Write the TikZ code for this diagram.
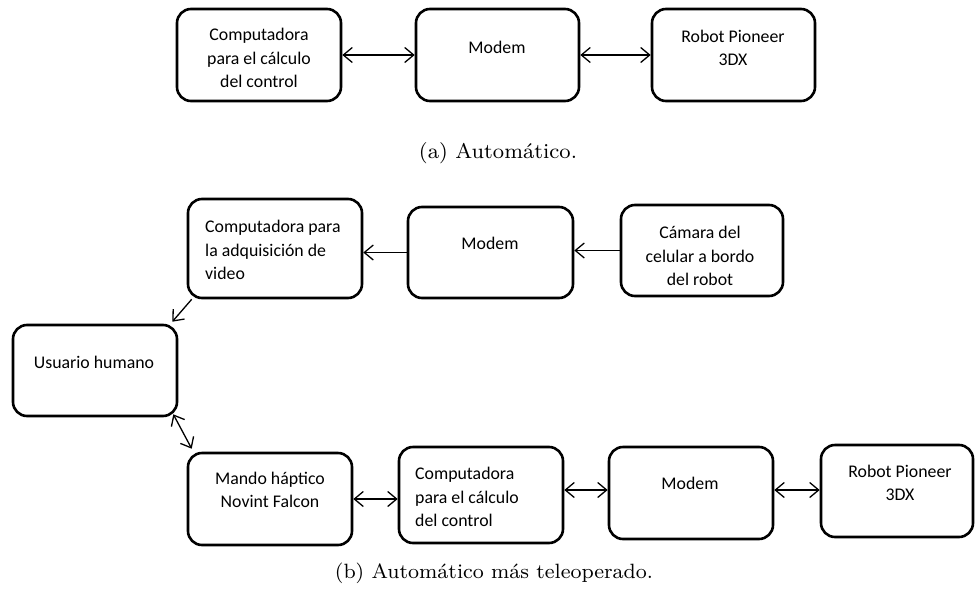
\documentclass[tikz,border=0pt]{standalone}
\usepackage{fontspec}
\newfontfamily\boxfont{Carlito}
\usetikzlibrary{arrows.meta}
\tikzset{
  box/.style={draw, line width=2.6pt, rounded corners=14pt, inner sep=0pt},
  txt/.style={inner sep=0pt, font=\boxfont\fontsize{17.8}{23.5}\selectfont},
  captxt/.style={inner sep=0pt, font=\fontsize{8}{10}\selectfont},
  conn/.style={line width=1.3pt, -{Straight Barb[length=9pt,width=15pt,line width=1.3pt]}},
  dconn/.style={line width=1.3pt, {Straight Barb[length=9pt,width=15pt,line width=1.3pt]}-{Straight Barb[length=9pt,width=15pt,line width=1.3pt]}}
}
\begin{document}
\begin{tikzpicture}[x=1pt,y=-1pt]
\useasboundingbox (0,0) rectangle (975,592);
% (a)
\node[box, minimum width=164pt, minimum height=92pt] (a1) at (259,55) {};
\node[box, minimum width=163pt, minimum height=92pt] (a2) at (497.5,55) {};
\node[box, minimum width=163pt, minimum height=92pt] (a3) at (733.5,55) {};
\node[txt, align=center] (ta1) at (259,58) {Computadora\\para el cálculo\\del control};
\node[txt] (ta2) at (497,47) {Modem};
\node[txt, align=center] (ta3) at (733,48) {Robot Pioneer\\3DX};
\draw[dconn] (a1.east) -- (a2.west);
\draw[dconn] (a2.east) -- (a3.west);
\node[captxt] (capa) at (498,153) {\resizebox{158pt}{!}{(a) Automático.}};
% (b)
\node[box, minimum width=174pt, minimum height=99pt] (b1) at (275,248.5) {};
\node[box, minimum width=165pt, minimum height=91pt] (b2) at (490.5,252.5) {};
\node[box, minimum width=162pt, minimum height=91pt] (b3) at (702,250.5) {};
\node[box, minimum width=164pt, minimum height=91pt] (b0) at (95,370.5) {};
\node[box, minimum width=164pt, minimum height=92pt] (b4) at (270,499) {};
\node[box, minimum width=164pt, minimum height=96pt] (b5) at (481,495) {};
\node[box, minimum width=164pt, minimum height=92pt] (b6) at (691,493) {};
\node[box, minimum width=152pt, minimum height=92pt] (b7) at (897,491) {};
\node[txt, align=left, anchor=west] (tb1) at (205,250) {Computadora para\\la adquisición de\\video};
\node[txt] (tb2) at (490,243) {Modem};
\node[txt, align=center] (tb3) at (700,256) {Cámara del\\celular a bordo\\del robot};
\node[txt] (tb0) at (94,362) {Usuario humano};
\node[txt, align=center] (tb4) at (270,490) {Mando háptico\\Novint Falcon};
\node[txt, align=left, anchor=west] (tb5) at (415,497) {Computadora\\para el cálculo\\del control};
\node[txt] (tb6) at (690,483) {Modem};
\node[txt, align=center] (tb7) at (900,483) {Robot Pioneer\\3DX};
\draw[conn] (b3.west) -- (b3.west -| b2.east);
\draw[conn] (b2.west) -- (b2.west -| b1.east);
\draw[conn] ([xshift=5pt]b1.south west) -- ([xshift=-6pt,yshift=2pt]b0.north east);
\draw[dconn] ([xshift=-5pt,yshift=3pt]b0.south east) -- ([xshift=5pt,yshift=3pt]b4.north west);
\draw[dconn] (b4.east) -- (b4.east -| b5.west);
\draw[dconn] ([yshift=5pt]b5.east) -- ([yshift=5pt]b5.east -| b6.west);
\draw[dconn] ([yshift=3pt]b6.east) -- ([yshift=3pt]b6.east -| b7.west);
\node[captxt] (capb) at (494,573) {\resizebox{318pt}{!}{(b) Automático más teleoperado.}};
\end{tikzpicture}
\end{document}
